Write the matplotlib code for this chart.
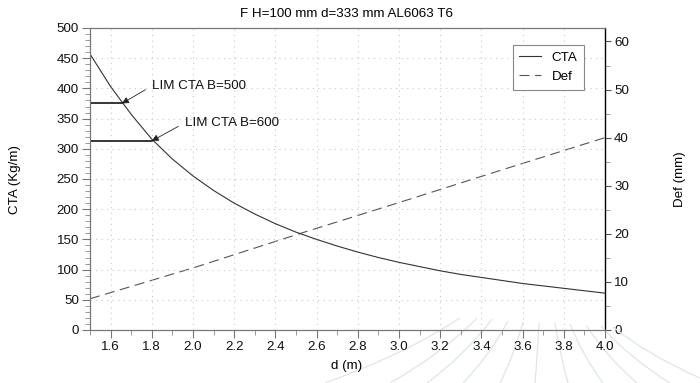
import matplotlib
matplotlib.use("Agg")
import matplotlib.pyplot as plt
from matplotlib.ticker import MultipleLocator
from matplotlib.path import Path
from matplotlib.patches import PathPatch

plt.rcParams['font.family'] = ['Liberation Sans', 'DejaVu Sans']
plt.rcParams['font.size'] = 9.6

# dati
d_cta = [1.5, 1.6, 1.7, 1.8, 1.9, 2.0, 2.1, 2.2, 2.3, 2.4, 2.5, 2.6, 2.7,
         2.8, 2.9, 3.0, 3.1, 3.2, 3.3, 3.4, 3.5, 3.6, 3.7, 3.8, 3.9, 4.0]
cta = [457, 403, 357, 316, 283, 255, 231, 210, 192, 176, 162, 150, 139,
       129, 120, 112, 105, 98, 92, 87, 82, 77, 73, 69, 65, 61]

d_def = [1.5, 2.0, 2.5, 3.0, 3.5, 4.0]
defl = [6.5, 12.9, 19.8, 26.5, 33.3, 40.0]

lim_labels = ['LIM CTA B=500', 'LIM CTA B=600']
lim_cta = [375, 313]
lim_d = [1.655, 1.80]
lim_text_pos = [(1.80, 404), (1.96, 343)]

fig = plt.figure(figsize=(7.0, 3.83), dpi=100)
ax = fig.add_axes([90/700, 1-330/383, 515/700, 302/383])
ax2 = ax.twinx()

# sfondo decorativo (archi chiari in basso a destra)
tops = [(460, 318), (477, 318), (492, 319), (508, 321), (523, 322), (539, 323),
        (555, 323), (570, 324), (586, 325), (601, 326), (613, 327)]
bots = [(325, 383), (390, 383), (427, 383), (463, 383), (500, 383), (535, 383),
        (568, 383), (603, 383), (637, 383), (670, 383), (700, 378)]
for (x0, y0), (x1, y1) in zip(tops, bots):
    cx = x0 + (x1 - x0) * 0.4
    cy = y0 + (y1 - y0) * 0.55
    verts = [(x0/700, 1-y0/383), (cx/700, 1-cy/383), (x1/700, 1-y1/383)]
    p = PathPatch(Path(verts, [Path.MOVETO, Path.CURVE3, Path.CURVE3]),
                  transform=fig.transFigure, fill=False, ec='#dbe7eb', lw=0.9, zorder=0)
    fig.patches.append(p)

ax.set_zorder(ax2.get_zorder() + 1)
ax.patch.set_visible(False)

l1, = ax.plot(d_cta, cta, color='#333333', lw=0.8, label='CTA')
l2, = ax2.plot(d_def, defl, color='#555555', lw=0.8, dashes=(9, 5), label='Def')

for lab, yv, xv, pos in zip(lim_labels, lim_cta, lim_d, lim_text_pos):
    ax.plot([1.5, xv], [yv, yv], color='black', lw=1.1)
    ax.annotate(lab, xy=(xv, yv), xytext=pos, ha='left', va='center', color='#111111',
                arrowprops=dict(arrowstyle='-|>', color='#222222', lw=0.6, relpos=(0, 0.5),
                                mutation_scale=10, shrinkA=3, shrinkB=0))

ax.set_xlim(1.5, 4.0)
ax.set_ylim(0, 500)
ax2.set_ylim(0, 62.8)

ax.xaxis.set_major_locator(MultipleLocator(0.2))
ax.xaxis.set_minor_locator(MultipleLocator(0.1))
ax.yaxis.set_major_locator(MultipleLocator(50))
ax.yaxis.set_minor_locator(MultipleLocator(10))
ax2.yaxis.set_major_locator(MultipleLocator(10))
ax2.yaxis.set_minor_locator(MultipleLocator(5))
ax.set_xticks([1.6, 1.8, 2.0, 2.2, 2.4, 2.6, 2.8, 3.0, 3.2, 3.4, 3.6, 3.8, 4.0])
ax.set_xticklabels(['1.6', '1.8', '2.0', '2.2', '2.4', '2.6', '2.8', '3.0',
                    '3.2', '3.4', '3.6', '3.8', '4.0'])

ax.grid(True, which='major', color='#c8c8c8', ls=(0, (1, 4)), lw=0.8)

ax.tick_params(axis='both', which='major', direction='out', length=6, color='#777777',
               labelsize=9.6, labelcolor='#111111', pad=2)
ax.tick_params(axis='both', which='minor', direction='out', length=3.5, color='#888888')
ax2.tick_params(axis='y', which='major', direction='out', length=4.5, color='#555555',
                labelsize=9.6, labelcolor='#111111', pad=2)
ax2.tick_params(axis='y', which='minor', direction='out', length=3.5, color='#888888')

for s in ['left', 'bottom', 'top']:
    ax.spines[s].set_color('#777777')
    ax2.spines[s].set_color('#777777')
ax.spines['right'].set_visible(False)
ax2.spines['right'].set_color('black')
ax2.spines['right'].set_linewidth(1.0)

leg = ax.legend(handles=[l1, l2], loc='upper right', bbox_to_anchor=(0.959, 0.944),
                fancybox=False, edgecolor='#888888', framealpha=1, handlelength=1.6,
                borderpad=0.5, labelspacing=0.5, borderaxespad=0)
leg.get_frame().set_linewidth(0.8)

fig.text(347/700, 1-14/383, 'F H=100 mm d=333 mm AL6063 T6', ha='center', va='center')
fig.text(347/700, 1-366/383, 'd (m)', ha='center', va='center')
fig.text(15/700, 1-179/383, 'CTA (Kg/m)', ha='center', va='center', rotation=90)
fig.text(680/700, 1-179/383, 'Def (mm)', ha='center', va='center', rotation=90)

fig.savefig('out.png', dpi=100)
